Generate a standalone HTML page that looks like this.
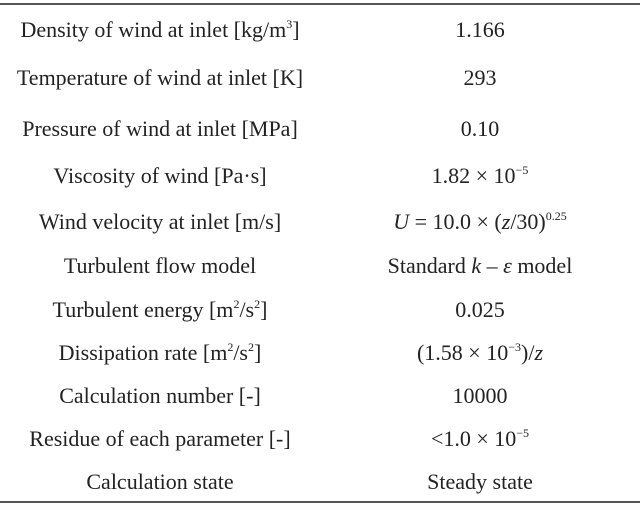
<!DOCTYPE html>
<html><head><meta charset="utf-8"><style>
body{margin:0;width:640px;height:507px;background:#fff;position:relative;overflow:hidden;font-family:"Liberation Serif",serif;font-size:22px;color:#222}
.l{position:absolute;left:0;width:640px;height:2px;background:#555}
.r{position:absolute;width:320px;text-align:center;line-height:24px;white-space:nowrap}
.a{left:0}.b{left:320px}
sup{font-size:12px;vertical-align:9px;line-height:0}
</style></head><body>
<div class="l" style="top:3px"></div>
<div class="l" style="top:501px"></div>
<div class="r a" style="top:18px">Density of wind at inlet [kg/m<sup>3</sup>]</div><div class="r b" style="top:18px">1.166</div>
<div class="r a" style="top:66px">Temperature of wind at inlet [K]</div><div class="r b" style="top:66px">293</div>
<div class="r a" style="top:117px">Pressure of wind at inlet [MPa]</div><div class="r b" style="top:117px">0.10</div>
<div class="r a" style="top:164px">Viscosity of wind [Pa·s]</div><div class="r b" style="top:164px">1.82 × 10<sup>−5</sup></div>
<div class="r a" style="top:210px">Wind velocity at inlet [m/s]</div><div class="r b" style="top:210px"><i>U</i> = 10.0 × (<i>z</i>/30)<sup>0.25</sup></div>
<div class="r a" style="top:254px">Turbulent flow model</div><div class="r b" style="top:254px">Standard <i>k</i> – <i>ε</i> model</div>
<div class="r a" style="top:298px">Turbulent energy [m<sup>2</sup>/s<sup>2</sup>]</div><div class="r b" style="top:298px">0.025</div>
<div class="r a" style="top:341px">Dissipation rate [m<sup>2</sup>/s<sup>2</sup>]</div><div class="r b" style="top:341px">(1.58 × 10<sup>−3</sup>)/<i>z</i></div>
<div class="r a" style="top:384px">Calculation number [-]</div><div class="r b" style="top:384px">10000</div>
<div class="r a" style="top:427px">Residue of each parameter [-]</div><div class="r b" style="top:427px">&lt;1.0 × 10<sup>−5</sup></div>
<div class="r a" style="top:470px">Calculation state</div><div class="r b" style="top:470px">Steady state</div>
</body></html>
